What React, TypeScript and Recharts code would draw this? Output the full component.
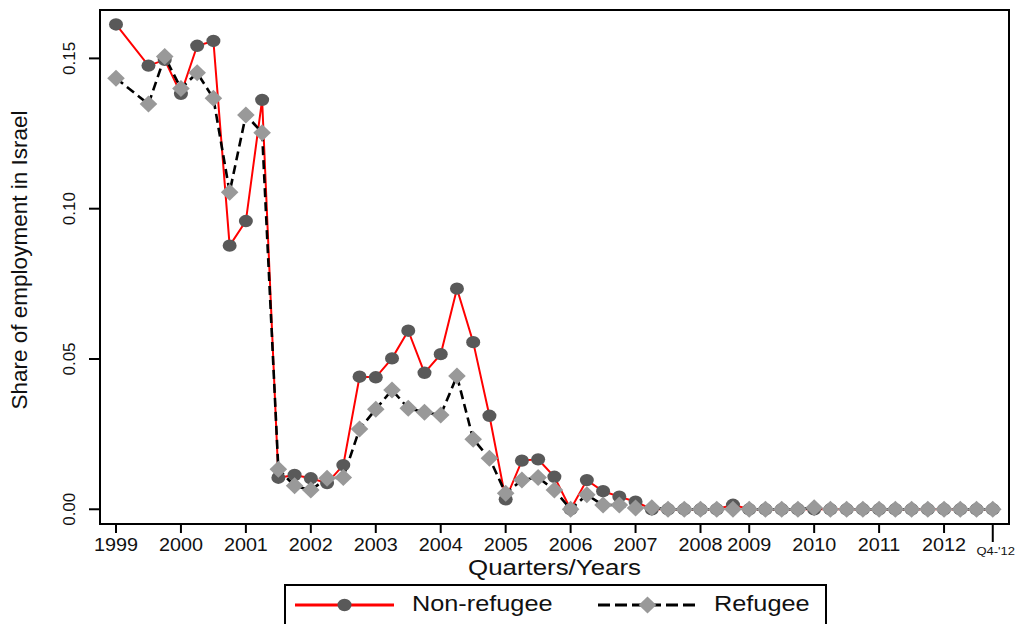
import { Legend, Line, LineChart, ReferenceArea, XAxis, YAxis } from 'recharts'

// quarter index, 0 = 1999 Q1 (1999 Q2 is missing in the source)
const QUARTER_INDEX = [
  0, 2, 3, 4, 5, 6, 7, 8, 9, 10, 11, 12, 13, 14, 15, 16, 17, 18, 19, 20, 21, 22,
  23, 24, 25, 26, 27, 28, 29, 30, 31, 32, 33, 34, 35, 36, 37, 38, 39, 40, 41,
  42, 43, 44, 45, 46, 47, 48, 49, 50, 51, 52, 53, 54,
]

const NON_REFUGEE = [
  0.1613, 0.1476, 0.1495, 0.1382, 0.1542, 0.1558, 0.0877, 0.0959, 0.1362,
  0.0105, 0.0114, 0.0103, 0.0087, 0.0147, 0.0441, 0.0439, 0.0502, 0.0594,
  0.0454, 0.0516, 0.0734, 0.0556, 0.0311, 0.0033, 0.0162, 0.0166, 0.0108,
  0.0, 0.0097, 0.006, 0.0042, 0.0025, 0.0, 0.0, 0.0, 0.0, 0.0, 0.0015,
  0.0, 0.0, 0.0, 0.0, 0.0, 0.0, 0.0, 0.0, 0.0, 0.0, 0.0, 0.0, 0.0, 0.0, 0.0, 0.0,
]

const REFUGEE = [
  0.1434, 0.1348, 0.1506, 0.14, 0.1452, 0.1367, 0.1055, 0.1312, 0.1253,
  0.0133, 0.0078, 0.0064, 0.0103, 0.0106, 0.0267, 0.0333, 0.0397, 0.0336,
  0.0323, 0.0314, 0.0443, 0.0233, 0.017, 0.0053, 0.0097, 0.0106, 0.0064,
  0.0, 0.0048, 0.0014, 0.0014, 0.0004, 0.0005, 0.0, 0.0, 0.0, 0.0, 0.0,
  0.0, 0.0, 0.0, 0.0, 0.0005, 0.0, 0.0, 0.0, 0.0, 0.0, 0.0, 0.0, 0.0, 0.0, 0.0, 0.0,
]

const X_TICKS = [0, 4, 8, 12, 16, 20, 24, 28, 32, 36, 39, 43, 47, 51, 54]
const X_TICK_LABELS = [
  '1999', '2000', '2001', '2002', '2003', '2004', '2005', '2006', '2007',
  '2008', '2009', '2010', '2011', '2012', "Q4-'12",
]
const Y_TICKS = [0, 0.05, 0.1, 0.15]

const X_DOMAIN: [number, number] = [-0.985, 55]
const Y_DOMAIN: [number, number] = [-0.0049, 0.1661]

const FONT = "'Liberation Sans', Arial, Helvetica, sans-serif"
const RED = '#ff0000'
const CIRCLE = '#595959'
const DIAMOND = '#999999'

const data = QUARTER_INDEX.map((t, i) => ({
  t,
  nonRefugee: NON_REFUGEE[i],
  refugee: REFUGEE[i],
}))

function circleShape(cx: number, cy: number, key?: string | number) {
  return <ellipse key={key} cx={cx} cy={cy} rx={7} ry={6.2} fill={CIRCLE} />
}

function diamondShape(cx: number, cy: number, key?: string | number) {
  const pts = `${cx},${cy - 8.5} ${cx + 8.8},${cy} ${cx},${cy + 8.5} ${cx - 8.8},${cy}`
  return <polygon key={key} points={pts} fill={DIAMOND} />
}

const CircleDot = (props: any) => {
  const { cx, cy, index } = props
  if (cx == null || cy == null) return <g key={`c-${index}`} />
  return circleShape(cx, cy, `c-${index}`)
}

const DiamondDot = (props: any) => {
  const { cx, cy, index } = props
  if (cx == null || cy == null) return <g key={`d-${index}`} />
  return diamondShape(cx, cy, `d-${index}`)
}

const XTick = (props: any) => {
  const { x, y, payload } = props
  const i = X_TICKS.indexOf(payload.value)
  const last = i === X_TICKS.length - 1
  return (
    <g>
      <line x1={x} x2={x} y1={y} y2={y + (last ? 18 : 9)} stroke="#000" strokeWidth={2} />
      <g transform={`translate(${last ? x + 3 : x},${y + (last ? 31 : 27)}) scale(1.13,1)`}>
        <text textAnchor="middle" fontSize={last ? 11.5 : 17.5} fontFamily={FONT} fill="#111">
          {X_TICK_LABELS[i]}
        </text>
      </g>
    </g>
  )
}

const YTick = (props: any) => {
  const { x, y, payload } = props
  return (
    <g>
      <line x1={x - 11} x2={x} y1={y} y2={y} stroke="#000" strokeWidth={2} />
      <text
        transform={`translate(${x - 25},${y}) rotate(-90)`}
        textAnchor="middle"
        fontSize={17}
        fontFamily={FONT}
        fill="#111"
      >
        {Number(payload.value).toFixed(2)}
      </text>
    </g>
  )
}

const XTitle = (props: any) => {
  const { viewBox } = props
  const cx = viewBox.x + viewBox.width / 2
  return (
    <g transform={`translate(${cx},${viewBox.y + 51}) scale(1.15,1)`}>
      <text textAnchor="middle" fontSize={22.5} fontFamily={FONT} fill="#111">
        Quarters/Years
      </text>
    </g>
  )
}

const YTitle = (props: any) => {
  const { viewBox } = props
  const cy = viewBox.y + viewBox.height / 2 - 7
  return (
    <text
      transform={`translate(27,${cy}) rotate(-90)`}
      textAnchor="middle"
      fontSize={22.5}
      fontFamily={FONT}
      fill="#111"
    >
      Share of employment in Israel
    </text>
  )
}

const renderLegend = (props: any) => {
  const payload = props.payload ?? []
  const slots = [
    { x0: 11, x1: 110, text: 128 },
    { x0: 314, x1: 413, text: 430 },
  ]
  return (
    <svg width={543} height={40} style={{ display: 'block' }}>
      <rect x={1} y={1} width={541} height={60} fill="#fff" stroke="#000" strokeWidth={2} />
      {payload.map((entry: any, i: number) => {
        const s = slots[i]
        const mid = (s.x0 + s.x1) / 2
        const isRef = entry.dataKey === 'refugee'
        return (
          <g key={entry.value}>
            <line
              x1={s.x0}
              x2={s.x1}
              y1={21}
              y2={21}
              stroke={isRef ? '#000' : RED}
              strokeWidth={isRef ? 3 : 3}
              strokeDasharray={isRef ? '12 5' : undefined}
            />
            {isRef ? diamondShape(mid, 21) : circleShape(mid, 21)}
            <g transform={`translate(${s.text},27) scale(1.15,1)`}>
              <text fontSize={22} fontFamily={FONT} fill="#111">
                {entry.value}
              </text>
            </g>
          </g>
        )
      })}
    </svg>
  )
}

export default function App() {
  return (
    <div style={{ position: 'absolute', left: 0, top: 0, width: 1019, height: 624, background: '#fff' }}>
      <LineChart
        width={1019}
        height={624}
        data={data}
        margin={{ top: 10, right: 10, bottom: 0, left: 0 }}
      >
        <XAxis
          dataKey="t"
          type="number"
          domain={X_DOMAIN}
          ticks={X_TICKS}
          interval={0}
          allowDataOverflow
          height={100}
          axisLine={false}
          tickLine={false}
          tickSize={0}
          tickMargin={0}
          tick={<XTick />}
          label={<XTitle />}
        />
        <YAxis
          type="number"
          domain={Y_DOMAIN}
          ticks={Y_TICKS}
          interval={0}
          allowDataOverflow
          width={100}
          axisLine={false}
          tickLine={false}
          tickSize={0}
          tickMargin={0}
          tick={<YTick />}
          label={<YTitle />}
        />
        <Line
          type="linear"
          dataKey="nonRefugee"
          name="Non-refugee"
          stroke={RED}
          strokeWidth={2}
          dot={CircleDot}
          activeDot={false}
          isAnimationActive={false}
        />
        <Line
          type="linear"
          dataKey="refugee"
          name="Refugee"
          stroke="#000"
          strokeWidth={2.6}
          strokeDasharray="9 5"
          dot={DiamondDot}
          activeDot={false}
          isAnimationActive={false}
        />
        <ReferenceArea
          x1={X_DOMAIN[0]}
          x2={X_DOMAIN[1]}
          y1={Y_DOMAIN[0]}
          y2={Y_DOMAIN[1]}
          fill="none"
          stroke="#000"
          strokeWidth={2}
          ifOverflow="visible"
        />
        <Legend
          layout="horizontal"
          verticalAlign="middle"
          align="center"
          wrapperStyle={{ left: 284, top: 584, width: 543, height: 40 }}
          content={renderLegend}
        />
      </LineChart>
    </div>
  )
}
